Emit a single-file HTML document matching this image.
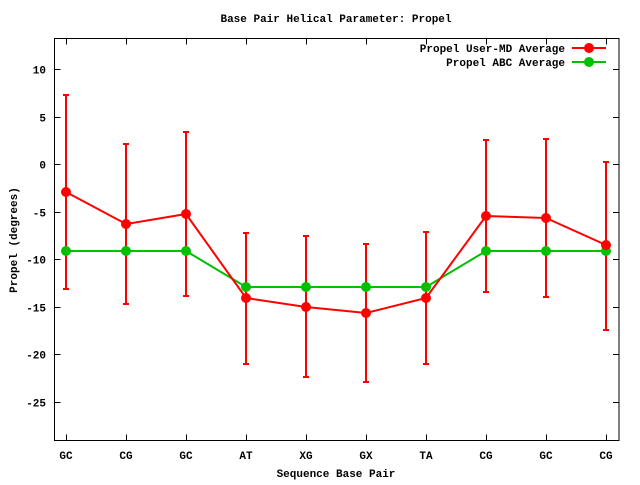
<!DOCTYPE html>
<html><head><meta charset="utf-8"><style>
html,body{margin:0;padding:0;background:#fff;}
svg text{font-family:"Liberation Mono","DejaVu Sans Mono",monospace;font-weight:bold;font-size:11px;fill:#000;}
</style></head><body>
<svg width="640" height="480" viewBox="0 0 640 480" xmlns="http://www.w3.org/2000/svg">
<rect x="0" y="0" width="640" height="480" fill="#fff"/>
<text x="336" y="22" text-anchor="middle">Base Pair Helical Parameter: Propel</text>
<rect x="54.5" y="38.5" width="564.5" height="402" fill="none" stroke="#000" stroke-width="1"/>
<g stroke="#000" stroke-width="1">
<line x1="54.5" y1="69.5" x2="60.5" y2="69.5"/><line x1="619" y1="69.5" x2="613" y2="69.5"/>
<line x1="54.5" y1="117.5" x2="60.5" y2="117.5"/><line x1="619" y1="117.5" x2="613" y2="117.5"/>
<line x1="54.5" y1="164.5" x2="60.5" y2="164.5"/><line x1="619" y1="164.5" x2="613" y2="164.5"/>
<line x1="54.5" y1="212.5" x2="60.5" y2="212.5"/><line x1="619" y1="212.5" x2="613" y2="212.5"/>
<line x1="54.5" y1="259.5" x2="60.5" y2="259.5"/><line x1="619" y1="259.5" x2="613" y2="259.5"/>
<line x1="54.5" y1="307.5" x2="60.5" y2="307.5"/><line x1="619" y1="307.5" x2="613" y2="307.5"/>
<line x1="54.5" y1="354.5" x2="60.5" y2="354.5"/><line x1="619" y1="354.5" x2="613" y2="354.5"/>
<line x1="54.5" y1="402.5" x2="60.5" y2="402.5"/><line x1="619" y1="402.5" x2="613" y2="402.5"/>
<line x1="66.5" y1="440.5" x2="66.5" y2="434.5"/><line x1="66.5" y1="38.5" x2="66.5" y2="44.5"/>
<line x1="126.5" y1="440.5" x2="126.5" y2="434.5"/><line x1="126.5" y1="38.5" x2="126.5" y2="44.5"/>
<line x1="186.5" y1="440.5" x2="186.5" y2="434.5"/><line x1="186.5" y1="38.5" x2="186.5" y2="44.5"/>
<line x1="246.5" y1="440.5" x2="246.5" y2="434.5"/><line x1="246.5" y1="38.5" x2="246.5" y2="44.5"/>
<line x1="306.5" y1="440.5" x2="306.5" y2="434.5"/><line x1="306.5" y1="38.5" x2="306.5" y2="44.5"/>
<line x1="366.5" y1="440.5" x2="366.5" y2="434.5"/><line x1="366.5" y1="38.5" x2="366.5" y2="44.5"/>
<line x1="426.5" y1="440.5" x2="426.5" y2="434.5"/><line x1="426.5" y1="38.5" x2="426.5" y2="44.5"/>
<line x1="486.5" y1="440.5" x2="486.5" y2="434.5"/><line x1="486.5" y1="38.5" x2="486.5" y2="44.5"/>
<line x1="546.5" y1="440.5" x2="546.5" y2="434.5"/><line x1="546.5" y1="38.5" x2="546.5" y2="44.5"/>
<line x1="606.5" y1="440.5" x2="606.5" y2="434.5"/><line x1="606.5" y1="38.5" x2="606.5" y2="44.5"/>
</g>
<g text-anchor="end">
<text x="46" y="73.5">10</text><text x="46" y="121.5">5</text><text x="46" y="168.5">0</text>
<text x="46" y="216.5">-5</text><text x="46" y="263.5">-10</text><text x="46" y="311.5">-15</text>
<text x="46" y="358.5">-20</text><text x="46" y="406.5">-25</text>
</g>
<g text-anchor="middle">
<text x="66" y="459">GC</text><text x="126" y="459">CG</text><text x="186" y="459">GC</text>
<text x="246" y="459">AT</text><text x="306" y="459">XG</text><text x="366" y="459">GX</text>
<text x="426" y="459">TA</text><text x="486" y="459">CG</text><text x="546" y="459">GC</text>
<text x="606" y="459">CG</text>
<text x="336" y="477">Sequence Base Pair</text>
<text x="0" y="0" transform="translate(17,240) rotate(-90)">Propel (degrees)</text>
</g>
<g stroke="#f00" stroke-width="2" fill="none">
<path d="M66 95V289M63 95H69M63 289H69"/>
<path d="M126 144V304M123 144H129M123 304H129"/>
<path d="M186 132V296M183 132H189M183 296H189"/>
<path d="M246 233V364M243 233H249M243 364H249"/>
<path d="M306 236V377M303 236H309M303 377H309"/>
<path d="M366 244V382M363 244H369M363 382H369"/>
<path d="M426 232V364M423 232H429M423 364H429"/>
<path d="M486 140V292M483 140H489M483 292H489"/>
<path d="M546 139V297M543 139H549M543 297H549"/>
<path d="M606 162V330M603 162H609M603 330H609"/>
</g>
<polyline fill="none" stroke="#00c000" stroke-width="2" points="66,251 126,251 186,251 246,287 306,287 366,287 426,287 486,251 546,251 606,251"/>
<g fill="#00c000">
<circle cx="66" cy="251" r="5"/><circle cx="126" cy="251" r="5"/><circle cx="186" cy="251" r="5"/>
<circle cx="246" cy="287" r="5"/><circle cx="306" cy="287" r="5"/><circle cx="366" cy="287" r="5"/>
<circle cx="426" cy="287" r="5"/><circle cx="486" cy="251" r="5"/><circle cx="546" cy="251" r="5"/>
<circle cx="606" cy="251" r="5"/>
</g>
<polyline fill="none" stroke="#f00" stroke-width="2" points="66,192 126,224 186,214 246,298 306,307 366,313 426,298 486,216 546,218 606,245"/>
<g fill="#f00">
<circle cx="66" cy="192" r="5"/><circle cx="126" cy="224" r="5"/><circle cx="186" cy="214" r="5"/>
<circle cx="246" cy="298" r="5"/><circle cx="306" cy="307" r="5"/><circle cx="366" cy="313" r="5"/>
<circle cx="426" cy="298" r="5"/><circle cx="486" cy="216" r="5"/><circle cx="546" cy="218" r="5"/>
<circle cx="606" cy="245" r="5"/>
</g>
<g text-anchor="end">
<text x="565" y="52">Propel User-MD Average</text>
<text x="565" y="66">Propel ABC Average</text>
</g>
<line x1="572" y1="48" x2="606" y2="48" stroke="#f00" stroke-width="2"/>
<circle cx="589" cy="48" r="5" fill="#f00"/>
<line x1="572" y1="62" x2="606" y2="62" stroke="#00c000" stroke-width="2"/>
<circle cx="589" cy="62" r="5" fill="#00c000"/>
</svg>
</body></html>
